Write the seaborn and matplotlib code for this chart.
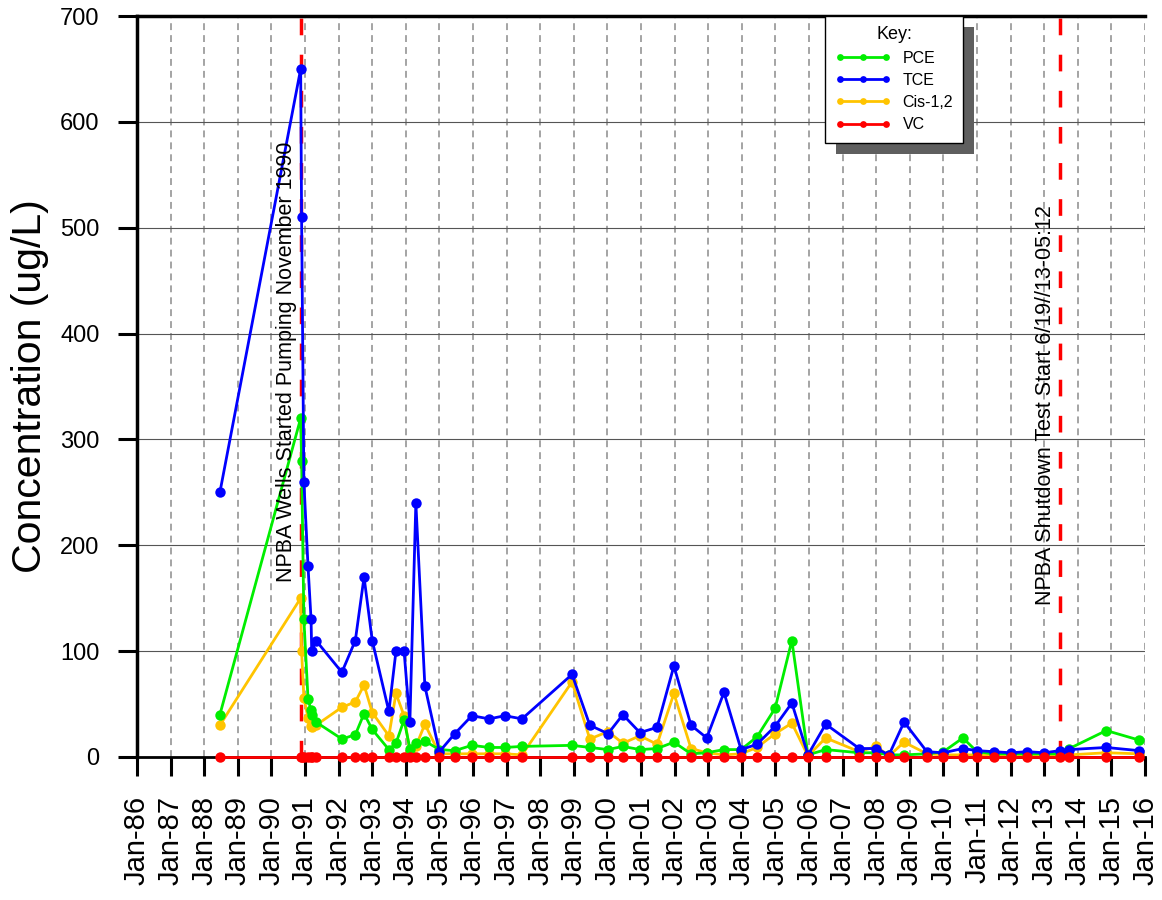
import pandas as pd
import matplotlib
matplotlib.use('Agg')
import matplotlib.pyplot as plt
import matplotlib.dates as mdates
from matplotlib.patches import Rectangle
import seaborn as sns

# Sampling dates
sample_dates = [
    '1988-06-20', '1990-11-15', '1990-11-25', '1990-12-20', '1991-02-03', '1991-03-08',
    '1991-03-15', '1991-05-01', '1992-02-06', '1992-07-01', '1992-10-04', '1993-01-01',
    '1993-07-01', '1993-09-16', '1993-12-13', '1994-02-14', '1994-04-20', '1994-07-27',
    '1995-01-01', '1995-06-17', '1995-12-20', '1996-06-25', '1996-12-13', '1997-06-17',
    '1998-12-13', '1999-06-24', '2000-01-08', '2000-06-17', '2000-12-20', '2001-06-24',
    '2001-12-24', '2002-06-28', '2002-12-16', '2003-06-21', '2003-12-24', '2004-06-14',
    '2004-12-28', '2005-06-28', '2005-12-20', '2006-07-01', '2007-07-01', '2008-01-01',
    '2008-05-19', '2008-10-30', '2009-07-05', '2010-01-01', '2010-07-31', '2011-01-01',
    '2011-07-01', '2012-01-01', '2012-07-01', '2013-01-01', '2013-06-20', '2013-10-01',
    '2014-11-06', '2015-10-27',
]

pce = [40, 320, 280, 130, 55, 44, 40, 33, 17, 21, 41, 26, 7, 13, 35, 8, 13, 15,
       7, 6, 11, 9, 9, 10, 11, 9, 7, 10, 7, 8, 14, 3, 4, 7, 7, 19, 46, 110,
       2, 7, 4, 4, 2, 2, 3, 5, 18, 5, 3, 3, 3, 3, 3, 8, 25, 16]
tce = [250, 650, 510, 260, 180, 130, 100, 110, 80, 110, 170, 110, 43, 100, 100, 33, 240, 67,
       5, 22, 39, 36, 39, 36, 78, 30, 22, 40, 23, 28, 86, 30, 18, 61, 7, 12, 29, 51,
       2, 31, 8, 8, 2, 33, 5, 4, 8, 6, 5, 4, 5, 4, 6, 7, 9, 6]
cis12 = [30, 150, 100, 56, 37, 29, 28, 30, 47, 52, 68, 42, 20, 60, 39, 5, 10, 31,
         3, 3, 3, 3, 3, 2, 71, 17, 24, 13, 20, 12, 60, 8, 4, 2, 3, 9, 22, 32,
         1, 18, 5, 10, 1, 14, 3, 2, 2, 2, 2, 2, 2, 2, 2, 2, 4, 3]
vc = [0, 0, 0, 0, 0, 0, 0, 0, 0, 0, 0, 0, 0, 0, 0, 0, 0, 0,
      0, 0, 0, 0, 0, 0, 0, 0, 0, 0, 0, 0, 0, 0, 0, 0, 0, 0, 0, 0,
      0, 0, 0, 0, 0, 0, 0, 0, 0, 0, 0, 0, 0, 0, 0, 0, 0, 0]

series_names = ['PCE', 'TCE', 'Cis-1,2', 'VC']
series_values = [pce, tce, cis12, vc]
series_colors = ['#00ee00', '#0000ff', '#ffc400', '#ff0000']
draw_order = ['Cis-1,2', 'PCE', 'TCE', 'VC']

event_dates = ['1990-11-15', '2013-06-19']
event_labels = ['NPBA Wells Started Pumping November 1990',
                'NPBA Shutdown Test Start 6/19//13-05:12']
event_label_y = [165, 144]

# Long-form table
frames = []
for name, vals in zip(series_names, series_values):
    frames.append(pd.DataFrame({'date': pd.to_datetime(sample_dates), 'value': vals, 'series': name}))
df = pd.concat(frames, ignore_index=True)
colors = dict(zip(series_names, series_colors))

sns.set_style("white")
plt.rcParams['font.family'] = ['Liberation Sans', 'DejaVu Sans']
plt.rcParams['text.color'] = 'black'
plt.rcParams['axes.labelcolor'] = 'black'
plt.rcParams['xtick.color'] = 'black'
plt.rcParams['ytick.color'] = 'black'

fig, ax = plt.subplots(figsize=(11.62, 9), dpi=100)
fig.subplots_adjust(left=0.1179, right=0.9854, top=0.9822, bottom=0.1589)

# event lines
for d in event_dates:
    ax.axvline(pd.Timestamp(d), color='#ff0000', linewidth=2.5, dashes=(4.8, 5.6), zorder=1.5)

for i, name in enumerate(draw_order):
    sub = df[df['series'] == name]
    sns.lineplot(data=sub, x='date', y='value', color=colors[name], marker='o',
                 markersize=7.5, markeredgewidth=0, linewidth=2.0, label=name,
                 estimator=None, ax=ax, clip_on=False, zorder=3 + i)

for d, txt, yv in zip(event_dates, event_labels, event_label_y):
    ax.annotate(txt, xy=(pd.Timestamp(d), yv), xytext=(-2.5, 0), textcoords='offset points',
                rotation=90, ha='right', va='bottom', fontsize=15.5, zorder=6)

ax.set_xlim(pd.Timestamp('1986-01-01'), pd.Timestamp('2016-01-01'))
ax.set_ylim(0, 700)
ax.set_yticks(range(0, 701, 100))
ax.xaxis.set_major_locator(mdates.YearLocator(1, month=1, day=1))
ax.xaxis.set_major_formatter(mdates.DateFormatter('%b-%y'))

ax.grid(axis='x', color='#8c8c8c', linestyle=(0, (4.5, 3.3)), linewidth=1.1)
ax.grid(axis='y', color='#555555', linestyle='-', linewidth=0.8)
ax.set_axisbelow(True)

for side in ['top', 'left']:
    ax.spines[side].set_linewidth(2.5)
    ax.spines[side].set_color('black')
ax.spines['bottom'].set_linewidth(2)
ax.spines['bottom'].set_color('black')
ax.spines['right'].set_visible(False)

ax.tick_params(axis='y', labelsize=17, length=14, width=2.2, pad=13, direction='out',
               left=True, color='black')
ax.tick_params(axis='x', labelsize=21, length=14, width=2.2, pad=14, direction='out',
               bottom=True, color='black', labelrotation=90)

ax.set_xlabel('')
ax.set_ylabel('Concentration (ug/L)', fontsize=29.5, labelpad=8)

handles, labels = ax.get_legend_handles_labels()
lookup = dict(zip(labels, handles))
leg = ax.legend([lookup[n] for n in series_names], series_names, title='Key:',
                loc='upper left', bbox_to_anchor=(0.6825, 1.0), borderaxespad=0,
                frameon=True, fancybox=False, edgecolor='black', framealpha=1,
                fontsize=11.5, title_fontsize=13, numpoints=3, handlelength=3.5,
                handletextpad=0.7, labelspacing=0.45, borderpad=0.65, markerscale=0.65)
leg.get_frame().set_linewidth(1)
leg.set_zorder(10)

# drop shadow behind the key
fig.canvas.draw()
bb = leg.get_window_extent()
inv = ax.transAxes.inverted()
(x0, y0), (x1, y1) = inv.transform([[bb.x0 + 11, bb.y0 - 11], [bb.x1 + 11, bb.y1 - 11]])
ax.add_patch(Rectangle((x0, y0), x1 - x0, y1 - y0, transform=ax.transAxes,
                       facecolor='#5f5f5f', edgecolor='none', zorder=9, clip_on=False))

fig.savefig('out.png', dpi=100)
